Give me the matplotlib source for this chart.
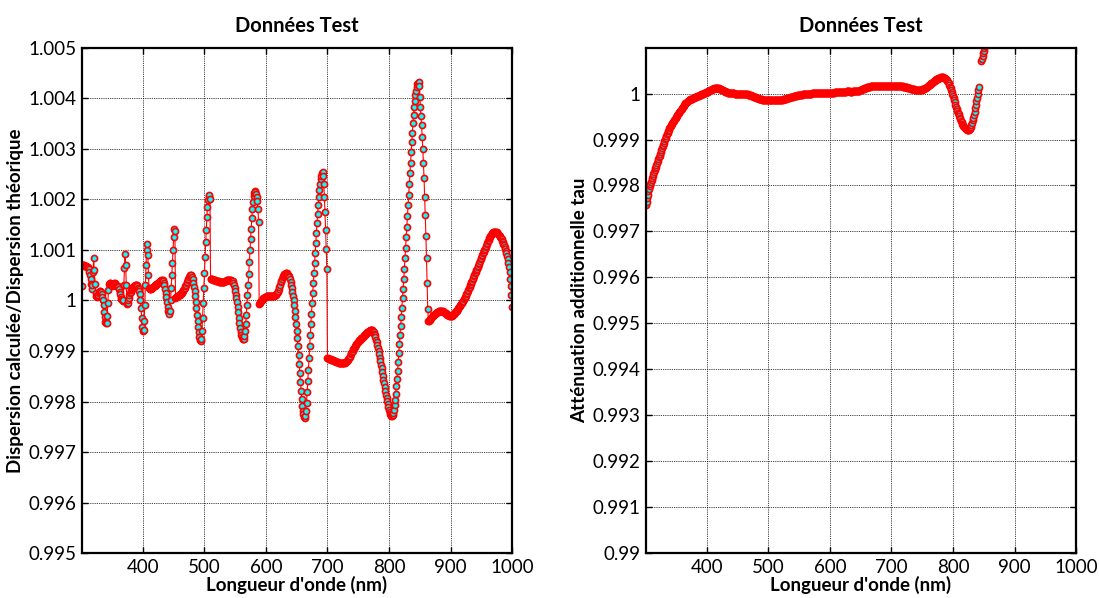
import numpy as np
import matplotlib
matplotlib.use('Agg')
import matplotlib.pyplot as plt
from matplotlib.ticker import FuncFormatter, MultipleLocator

plt.rcParams['font.family'] = ['Lato', 'DejaVu Sans']

# Wavelength grid (nm), one sample per nm
wl_disp = np.arange(301, 1001)
wl_tau = np.arange(301, 855)

# Dispersion calculée / théorique, deviation from 1 in millionths
disp_ppm = [
    280, 700, 700, 695, 690, 685, 680, 675, 670, 665,
    650, 620, 570, 500, 420, 330, 220, 300, 560, 830,
    600, 320, 150, 80, 60, 80, 110, 140, 170, 190,
    190, 170, 130, 70, 0, -100, -220, -330, -420, -450,
    -440, -300, -50, 200, 330, 350, 340, 320, 300, 290,
    300, 320, 340, 340, 320, 300, 290, 290, 280, 260,
    220, 170, 120, 70, 30, 0, -10, 0, 300, 650,
    920, 700, 300, -80, -60, 0, 50, 100, 140, 170,
    200, 220, 240, 260, 280, 290, 300, 310, 310, 300,
    280, 250, 220, 180, 120, 0, -150, -350, -520, -610,
    -580, -400, -100, 300, 700, 1000, 1110, 900, 500, 250,
    220, 220, 230, 240, 250, 260, 270, 280, 290, 300,
    310, 320, 330, 340, 350, 360, 370, 380, 390, 400,
    400, 395, 380, 350, 300, 230, 150, 60, -40, -130,
    -200, -250, -260, -200, 0, 250, 500, 750, 1000, 1250,
    1420, 1380, 50, 60, 70, 80, 90, 100, 100, 110,
    120, 130, 140, 160, 180, 200, 220, 250, 280, 310,
    340, 370, 400, 430, 460, 480, 495, 500, 495, 470,
    420, 350, 270, 180, 80, -30, -150, -280, -400, -520,
    -630, -720, -780, -800, -760, -600, -350, -50, 250, 550,
    850, 1150, 1400, 1650, 1850, 1980, 2060, 2080, 2000, 430,
    425, 420, 415, 410, 405, 400, 400, 395, 390, 385,
    380, 378, 375, 372, 370, 368, 366, 365, 365, 365,
    368, 372, 378, 385, 392, 398, 403, 406, 408, 408,
    405, 400, 395, 390, 385, 375, 350, 310, 250, 180,
    110, 40, -40, -130, -230, -340, -450, -550, -630, -690,
    -730, -755, -765, -755, -700, -600, -460, -290, -100, 100,
    310, 530, 760, 990, 1210, 1420, 1620, 1800, 1950, 2060,
    2130, 2160, 2150, 2110, 2050, 1960, 1800, 1560, -70, -50,
    -30, -15, 0, 15, 30, 45, 55, 65, 70, 75,
    80, 85, 90, 95, 95, 95, 95, 92, 90, 90,
    90, 92, 95, 100, 105, 110, 120, 140, 165, 195,
    235, 275, 315, 355, 390, 425, 455, 480, 500, 515,
    527, 535, 538, 535, 525, 510, 488, 458, 420, 372,
    315, 248, 172, 90, 0, -100, -210, -330, -460, -600,
    -750, -910, -1080, -1260, -1440, -1620, -1790, -1950, -2080, -2180,
    -2250, -2300, -2320, -2280, -2180, -2020, -1820, -1600, -1370, -1140,
    -910, -690, -470, -260, -60, 140, 340, 540, 740, 940,
    1140, 1340, 1530, 1710, 1880, 2040, 2180, 2300, 2400, 2470,
    2520, 2530, 2470, 2300, 2050, 1750, 1400, 1020, 620, -1130,
    -1140, -1150, -1155, -1160, -1165, -1170, -1175, -1180, -1185, -1190,
    -1195, -1200, -1205, -1210, -1215, -1220, -1225, -1230, -1235, -1240,
    -1242, -1244, -1245, -1245, -1244, -1242, -1238, -1232, -1224, -1214,
    -1202, -1188, -1172, -1154, -1134, -1112, -1090, -1066, -1042, -1018,
    -994, -970, -946, -922, -900, -880, -860, -843, -828, -814,
    -800, -788, -776, -764, -752, -740, -727, -714, -701, -688,
    -675, -662, -650, -638, -626, -615, -605, -596, -589, -584,
    -580, -580, -585, -600, -625, -655, -690, -730, -775, -825,
    -880, -940, -1000, -1065, -1130, -1200, -1270, -1340, -1415, -1490,
    -1565, -1640, -1715, -1790, -1860, -1930, -1995, -2055, -2110, -2160,
    -2205, -2240, -2265, -2285, -2290, -2270, -2230, -2160, -2070, -1960,
    -1840, -1700, -1550, -1390, -1220, -1040, -860, -680, -500, -320,
    -140, 40, 220, 420, 620, 830, 1040, 1250, 1460, 1670,
    1880, 2090, 2300, 2510, 2720, 2930, 3130, 3320, 3500, 3670,
    3820, 3950, 4060, 4150, 4220, 4270, 4300, 4320, 4240, 4030,
    3830, 3640, 3470, 3240, 2990, 2710, 2420, 2050, 1680, 1280,
    830, 340, -170, -415, -400, -385, -370, -355, -340, -325,
    -310, -295, -282, -270, -260, -250, -242, -235, -228, -222,
    -218, -215, -213, -212, -212, -214, -218, -223, -230, -238,
    -246, -255, -264, -273, -281, -288, -294, -299, -302, -304,
    -304, -300, -294, -286, -276, -264, -250, -235, -218, -200,
    -182, -163, -144, -125, -106, -88, -70, -53, -36, -20,
    -5, 20, 45, 70, 95, 120, 150, 180, 210, 240,
    270, 300, 330, 360, 390, 420, 450, 480, 510, 540,
    570, 600, 630, 660, 690, 720, 750, 780, 810, 840,
    870, 900, 930, 960, 990, 1020, 1050, 1080, 1110, 1140,
    1170, 1200, 1230, 1255, 1280, 1300, 1318, 1333, 1345, 1353,
    1358, 1360, 1358, 1352, 1344, 1334, 1322, 1308, 1292, 1274,
    1254, 1232, 1208, 1182, 1154, 1124, 1092, 1058, 1020, 978,
    930, 876, 814, 744, 664, 560, 430, 280, 100, -120,
]

# Atténuation additionnelle tau, deviation from 1 in millionths (nan = no point)
tau_ppm = [
    -2430, -2350, -2270, -2200, -2130, -2070, -2010, -1965, -1920, -1875,
    -1830, -1790, -1750, -1710, -1670, -1630, -1590, -1550, -1510, -1470,
    -1430, -1390, -1350, -1310, -1270, -1230, -1190, -1150, -1110, -1070,
    -1030, -995, -960, -925, -890, -855, -820, -790, -760, -730,
    -705, -680, -655, -632, -610, -590, -570, -550, -530, -510,
    -490, -470, -450, -430, -410, -390, -370, -350, -330, -310,
    -290, -270, -250, -232, -215, -200, -187, -175, -165, -155,
    -146, -138, -130, -123, -116, -110, -104, -98, -92, -86,
    -80, -74, -68, -62, -56, -50, -44, -38, -32, -26,
    -20, -14, -8, -2, 4, 10, 16, 22, 28, 34,
    40, 47, 54, 61, 68, 75, 82, 89, 96, 102,
    108, 113, 117, 119, 120, 119, 117, 114, 110, 105,
    100, 94, 88, 81, 74, 67, 60, 53, 46, 40,
    34, 29, 24, 20, 16, 13, 10, 8, 6, 5,
    4, 3, 2, 1, 0, 0, 0, 0, 0, 0,
    0, 0, 0, 0, 0, 0, 0, -1, -2, -3,
    -5, -7, -9, -12, -15, -18, -22, -26, -30, -35,
    -40, -45, -50, -55, -60, -66, -72, -78, -84, -90,
    -95, -100, -105, -110, -114, -118, -122, -125, -128, -131,
    -133, -135, -137, -138, -139, -140, -141, -142, -142, -143,
    -144, -145, -146, -147, -148, -149, -150, -150, -151, -151,
    -151, -151, -150, -150, -149, -148, -146, -144, -142, -140,
    -137, -134, -131, -128, -125, -121, -117, -113, -109, -105,
    -101, -97, -93, -89, -85, -81, -77, -73, -69, -65,
    -61, -57, -53, -50, -47, -44, -41, -38, -35, -32,
    -30, -28, -26, -24, -22, -20, -18, -16, -14, -12,
    -10, -8, -7, -6, -5, -4, -3, -2, -1, 0,
    1, 1, 2, 2, 3, 3, 4, 4, 5, 5,
    6, 6, 7, 7, 8, 8, 9, 9, 10, 10,
    10, 11, 11, 12, 12, 13, 13, 14, 14, 15,
    16, 17, 18, 19, 20, 21, 22, 23, 24, 25,
    26, 27, 28, 29, 30, 31, 32, 33, 34, 35,
    36, 37, 38, 39, 40, 42, 45, 48, 50, 50,
    48, 45, 42, 40, 40, 42, 46, 52, 58, 62,
    64, 64, 62, 60, 58, 58, 60, 64, 70, 76,
    82, 88, 94, 100, 106, 112, 118, 124, 130, 135,
    139, 143, 146, 149, 151, 153, 155, 156, 157, 158,
    159, 160, 161, 162, 163, 164, 165, 165, 166, 166,
    167, 167, 168, 168, 168, 169, 169, 169, 170, 170,
    170, 170, 170, 170, 170, 170, 170, 170, 170, 170,
    170, 170, 170, 170, 170, 170, 170, 169, 169, 168,
    167, 166, 165, 163, 161, 159, 157, 154, 151, 148,
    145, 142, 139, 136, 132, 128, 124, 120, 116, 112,
    108, 104, 100, 97, 94, 91, 88, 86, 84, 82,
    80, 79, 78, 78, 78, 79, 80, 82, 85, 88,
    92, 97, 103, 110, 118, 127, 136, 146, 156, 166,
    177, 188, 199, 210, 221, 232, 243, 254, 265, 276,
    287, 297, 307, 316, 324, 331, 337, 342, 346, 349,
    351, 352, 352, 351, 348, 343, 335, 325, 312, 296,
    274, 248, 218, 184, 148, 110, 70, 28, -16, -60,
    -105, -150, -195, -240, -285, -330, -373, -415, -455, -493,
    -529, -563, -595, -625, -653, -679, -702, -723, -741, -757,
    -770, -780, -787, -791, -790, -784, -770, -748, -718, -680,
    -634, -582, -524, -460, -392, -320, -245, -168, -90, -12,
    66, 150, np.nan, np.nan, np.nan, 700, 760, 820, 880, 930,
    980, 1030, 1080, 1130,
]

disp_ratio = 1 + np.array(disp_ppm, dtype=float) * 1e-6
tau = 1 + np.array(tau_ppm, dtype=float) * 1e-6


def style_axes(ax):
    """MATLAB-like box: inward ticks on all sides, dotted black grid."""
    ax.grid(True, color='k', linestyle=(0, (1, 1.2)), linewidth=0.6)
    ax.set_axisbelow(True)
    ax.tick_params(direction='in', top=True, right=True, length=4, width=1,
                   labelsize=13.5, pad=4)
    for side in ax.spines.values():
        side.set_linewidth(1.6)
    ax.xaxis.set_major_locator(MultipleLocator(100))
    ax.yaxis.set_major_formatter(FuncFormatter(lambda v, p: '%g' % round(v, 6)))


def plot_series(ax, x, y):
    ax.plot(x, y, '-o', color='red', linewidth=0.8, markersize=4.4,
            markerfacecolor='cyan', markeredgecolor='red', markeredgewidth=1.2)


fig = plt.figure(figsize=(10.99, 5.98), dpi=100)

ax1 = fig.add_axes([0.0746, 0.0747, 0.3913, 0.8458])
plot_series(ax1, wl_disp, disp_ratio)
ax1.set_xlim(301, 1000)
ax1.set_ylim(0.995, 1.005)
ax1.yaxis.set_major_locator(MultipleLocator(0.001))
style_axes(ax1)
ax1.set_title('Données Test', fontsize=14.5, fontweight='bold', pad=11)
ax1.set_xlabel("Longueur d'onde (nm)", fontsize=13.5, fontweight='bold', labelpad=0)
ax1.set_ylabel('Dispersion calculée/Dispersion théorique', fontsize=13.5,
               fontweight='bold', labelpad=3)

ax2 = fig.add_axes([0.5878, 0.0747, 0.3913, 0.8458])
plot_series(ax2, wl_tau, tau)
ax2.set_xlim(301, 1000)
ax2.set_ylim(0.99, 1.001)
ax2.set_yticks(np.arange(0.99, 1.0005, 0.001))
style_axes(ax2)
ax2.set_title('Données Test', fontsize=14.5, fontweight='bold', pad=11)
ax2.set_xlabel("Longueur d'onde (nm)", fontsize=13.5, fontweight='bold', labelpad=0)
ax2.set_ylabel('Atténuation additionnelle tau', fontsize=13.5, fontweight='bold',
               labelpad=3)

fig.savefig('out.png', dpi=100)
